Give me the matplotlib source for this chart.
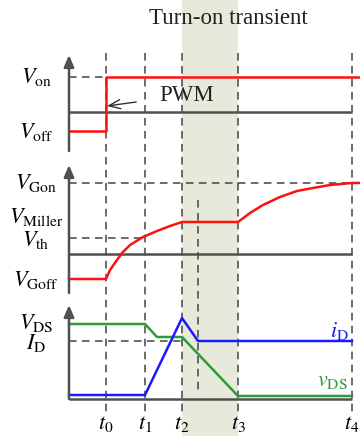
import numpy as np
import matplotlib
matplotlib.use("Agg")
import matplotlib.pyplot as plt

plt.rcParams["mathtext.fontset"] = "stix"
plt.rcParams["font.family"] = ["Liberation Serif", "DejaVu Serif"]

# switching instants (time units, origin on the vertical axis)
t_names = ["t_0", "t_1", "t_2", "t_3", "t_4"]
t_vals = [37, 76, 113, 169, 283]
t_plateau_end = 129
t_end = 291

# PWM command
pwm_t = [0, 37, 37, t_end]
pwm_v = [-19, -19, 35, 35]
v_on, v_off = 35, -19

# gate voltage
vg_t = [0, 37, 41, 48, 53, 61, 74, 88, 101, 113, 169, 181, 194, 211, 228, 244, 261, 283, t_end]
vg_v = [-25, -25, -16, -6, 1, 9, 17, 23, 28, 32, 32, 41, 49, 57, 63, 66, 69, 71, 71]
v_gon, v_miller, v_th, v_goff = 71, 32, 16, -25

# drain current and drain-source voltage
id_t = [0, 76, 113, 129, 283]
id_v = [4, 4, 81, 58, 58]
vds_t = [0, 76, 88, 113, 169, 283]
vds_v = [75, 75, 62, 62, 3, 3]
v_ds, i_d = 75, 58

W, H = 360, 436
fig = plt.figure(figsize=(W / 100, H / 100), dpi=100)
XL = (-69, W - 69)
AX_C = "#505050"
DASH_C = "#444444"
RED, BLUE, GREEN = "#ff1010", "#1a1aff", "#2e9a3a"

bg = fig.add_axes([0, 0, 1, 1], zorder=0)
bg.set_xlim(*XL)
bg.set_ylim(H, 0)
bg.axis("off")

# shaded turn-on interval
bg.axvspan(t_vals[2], t_vals[3], color="#e7eadb", lw=0)
bg.text(159, 18, "Turn-on transient", ha="center", va="center", fontsize=16.5, color="#222222")

for t in t_vals:
    bg.plot([t, t], [53, 412], ls=(0, (5, 3.5)), color=DASH_C, lw=1.1)
bg.plot([t_plateau_end] * 2, [200, 390], ls=(0, (5, 3.5)), color=DASH_C, lw=1.1)

for name, t in zip(t_names, t_vals):
    bg.text(t, 424, f"${name}$", ha="center", va="center", fontsize=16)


def panel(top, bottom, base, ylabel_levels, arrow_top, line_end):
    ax = fig.add_axes([0, (H - bottom) / H, 1, (bottom - top) / H], zorder=2)
    ax.set_xlim(*XL)
    ax.set_ylim(base - bottom, base - top)
    ax.patch.set_alpha(0)
    ax.axis("off")
    ax.plot([0, t_vals[-1]], [0, 0], color=AX_C, lw=1.8, solid_capstyle="butt")
    ax.annotate("", xy=(0, arrow_top), xytext=(0, base - line_end),
                arrowprops=dict(arrowstyle="-|>,head_length=0.7,head_width=0.3",
                                color=AX_C, lw=1.8, shrinkA=0, shrinkB=0))
    for txt, lvl in ylabel_levels:
        ax.text(-33, lvl, txt, ha="center", va="center", fontsize=16)
    return ax


def hdash(ax, t1, lvl):
    ax.plot([0, t1], [lvl, lvl], ls=(0, (5, 3.5)), color=DASH_C, lw=1.1)


# PWM panel
ax1 = panel(0, 150, 112, [(r"$V_{\mathrm{on}}$", v_on), (r"$V_{\mathrm{off}}$", v_off - 1)], 57, 151)
hdash(ax1, t_vals[0], v_on)
ax1.plot(pwm_t, pwm_v, color=RED, lw=1.8)
ax1.annotate("PWM", xy=(t_vals[0] + 1, 6), xytext=(118, 17), ha="center", va="center",
             fontsize=16.5, color="#222222",
             arrowprops=dict(arrowstyle="->,head_length=0.5,head_width=0.2",
                             color="#333333", lw=1.0, shrinkA=15, shrinkB=0))

# gate voltage panel
ax2 = panel(150, 296, 254, [(r"$V_{\mathrm{Gon}}$", v_gon), (r"$V_{\mathrm{Miller}}$", v_miller + 5),
                            (r"$V_{\mathrm{th}}$", v_th - 2), (r"$V_{\mathrm{Goff}}$", v_goff - 1)], 89, 293)
hdash(ax2, t_vals[4], v_gon)
hdash(ax2, t_vals[1], v_th)
ax2.plot(vg_t, vg_v, color=RED, lw=1.8)

# drain panel
ax3 = panel(296, 436, 399, [(r"$V_{\mathrm{DS}}$", v_ds + 1), (r"$I_{\mathrm{D}}$", i_d - 2)], 94, 399)
hdash(ax3, t_vals[2], i_d)
ax3.plot(vds_t, vds_v, color=GREEN, lw=1.8)
ax3.plot(id_t, id_v, color=BLUE, lw=1.8)
ax3.text(270, 68, r"$i_{\mathrm{D}}$", color=BLUE, ha="center", va="center", fontsize=16)
ax3.text(263, 18, r"$v_{\mathrm{DS}}$", color=GREEN, ha="center", va="center", fontsize=16)

fig.savefig("out.png", dpi=100)
